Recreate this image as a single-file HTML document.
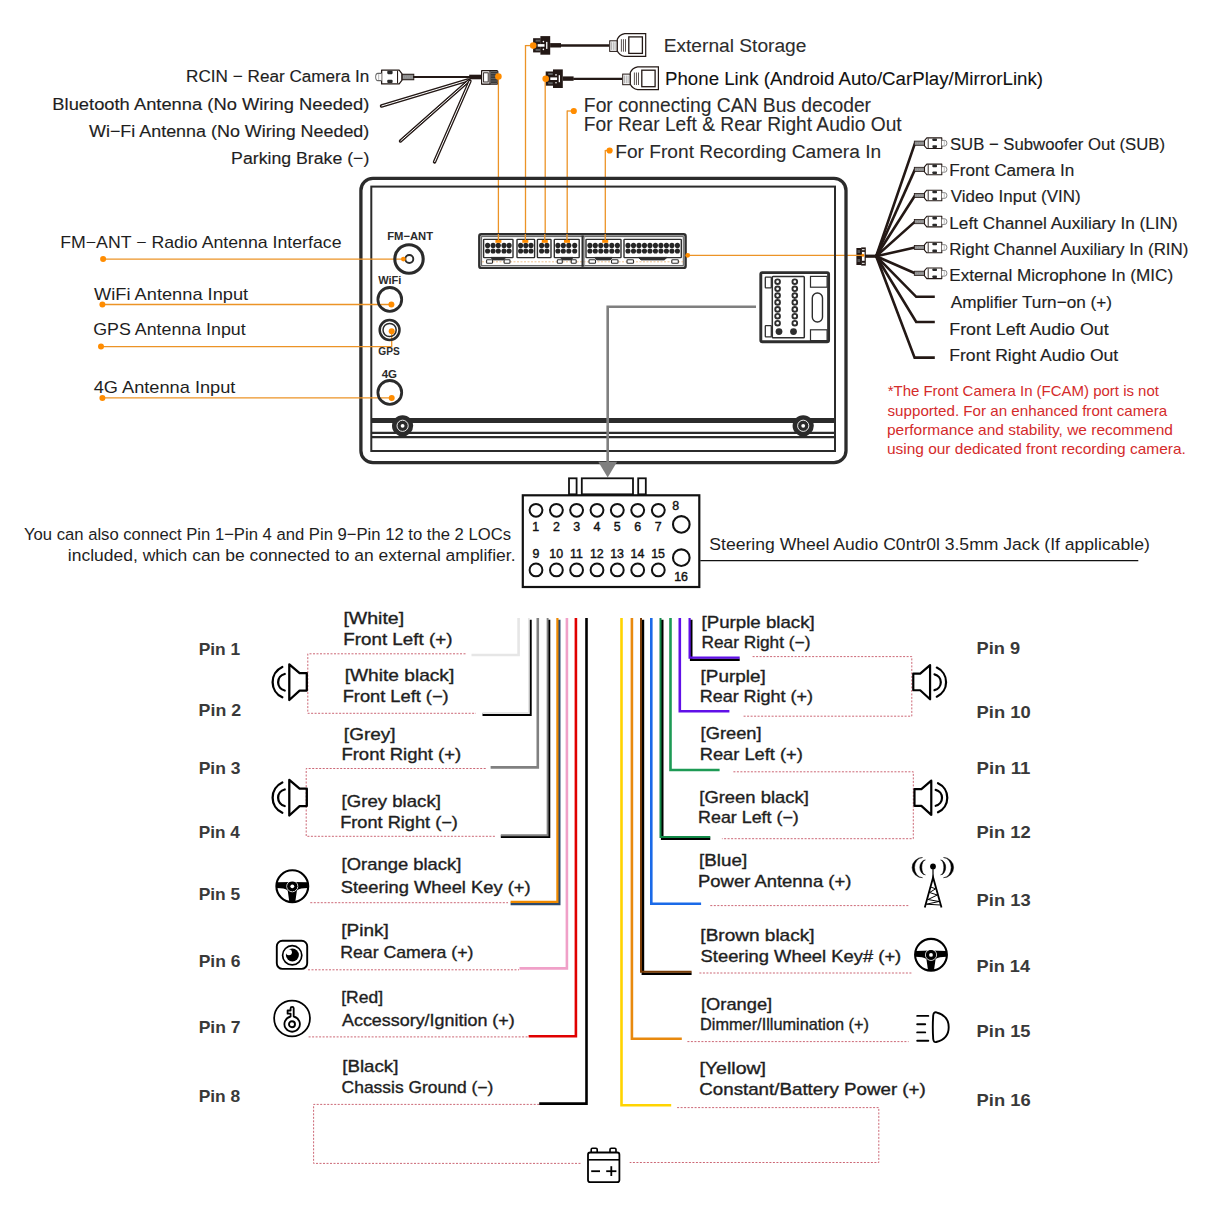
<!DOCTYPE html>
<html><head><meta charset="utf-8"><style>
html,body{margin:0;padding:0;background:#fff;}
svg{display:block;}
text{font-family:"Liberation Sans", sans-serif;}
</style></head><body>
<svg width="1214" height="1214" viewBox="0 0 1214 1214">
<rect x="0" y="0" width="1214" height="1214" fill="#fff"/>
<text x="186.13" y="82.30" font-size="16.9" font-weight="normal" fill="#1e1e1e" stroke="#1e1e1e" stroke-width="0.15" textLength="183.25" lengthAdjust="spacingAndGlyphs">RCIN − Rear Camera In</text>
<text x="52.33" y="109.60" font-size="16.9" font-weight="normal" fill="#1e1e1e" stroke="#1e1e1e" stroke-width="0.15" textLength="317.04" lengthAdjust="spacingAndGlyphs">Bluetooth Antenna (No Wiring Needed)</text>
<text x="89.00" y="136.80" font-size="16.9" font-weight="normal" fill="#1e1e1e" stroke="#1e1e1e" stroke-width="0.15" textLength="280.30" lengthAdjust="spacingAndGlyphs">Wi−Fi Antenna (No Wiring Needed)</text>
<text x="231.08" y="164.00" font-size="16.9" font-weight="normal" fill="#1e1e1e" stroke="#1e1e1e" stroke-width="0.15" textLength="138.26" lengthAdjust="spacingAndGlyphs">Parking Brake (−)</text>
<line x1="468" y1="80" x2="381.5" y2="106" stroke="#231815" stroke-width="3.4" stroke-linecap="round"/>
<line x1="468" y1="80" x2="381.5" y2="106" stroke="#ffffff" stroke-width="1.0" />
<line x1="469" y1="80.5" x2="400.5" y2="141" stroke="#231815" stroke-width="3.4" stroke-linecap="round"/>
<line x1="469" y1="80.5" x2="400.5" y2="141" stroke="#ffffff" stroke-width="1.0" />
<line x1="470" y1="81" x2="434.5" y2="162" stroke="#231815" stroke-width="3.4" stroke-linecap="round"/>
<line x1="470" y1="81" x2="434.5" y2="162" stroke="#ffffff" stroke-width="1.0" />
<g transform="translate(413.8,77.0) scale(-1.17,1.3)">
<rect x="0" y="-2.1" width="10.2" height="4.2" rx="0" fill="#8c8c8c" stroke="#231815" stroke-width="0.8" />
<line x1="1" y1="0" x2="9.5" y2="0" stroke="#b5b5b5" stroke-width="0.6" stroke-dasharray="1 0.8"/>
<path d="M10.2,-2.6 L12.5,-5.3 L27.5,-5.3 L27.5,5.3 L12.5,5.3 L10.2,2.6 Z" fill="#ffffff" stroke="#231815" stroke-width="1.1" stroke-linejoin="round"/>
<line x1="13.9" y1="-4.8" x2="13.9" y2="4.8" stroke="#231815" stroke-width="0.9" />
<rect x="18.1" y="-4.8" width="4.6" height="2.6" rx="0.8" fill="#2a2a2a" stroke="none" stroke-width="0" />
<rect x="18.1" y="2.1" width="4.6" height="2.6" rx="0.8" fill="#2a2a2a" stroke="none" stroke-width="0" />
<path d="M27.5,-2.8 L30.6,-2.8 Q32.6,-2.8 32.6,0 Q32.6,2.8 30.6,2.8 L27.5,2.8" fill="#ffffff" stroke="#666" stroke-width="0.8" />
<line x1="30" y1="-2.2" x2="30" y2="2.2" stroke="#999" stroke-width="0.6" />
</g>
<line x1="413" y1="77.0" x2="470" y2="77.0" stroke="#231815" stroke-width="1.9" />
<rect x="469.2" y="74.7" width="12.2" height="4.6" rx="0" fill="#231815" stroke="none" stroke-width="0" />
<rect x="481.6" y="70.6" width="16.2" height="13.6" rx="1" fill="#ffffff" stroke="#231815" stroke-width="1.2" />
<rect x="481.6" y="70.6" width="8.4" height="13.6" rx="0.5" fill="#ffffff" stroke="#231815" stroke-width="1.2" />
<rect x="483.6" y="72.8" width="4.6" height="9.2" rx="0" fill="#ffffff" stroke="#231815" stroke-width="0.9" />
<rect x="490.6" y="71.3" width="6.6" height="12.2" rx="0" fill="#3a3a3a" stroke="none" stroke-width="0" />
<line x1="491" y1="73.5" x2="497" y2="73.5" stroke="#777" stroke-width="0.6" />
<line x1="491" y1="76.0" x2="497" y2="76.0" stroke="#777" stroke-width="0.6" />
<line x1="491" y1="78.5" x2="497" y2="78.5" stroke="#777" stroke-width="0.6" />
<line x1="491" y1="81.0" x2="497" y2="81.0" stroke="#777" stroke-width="0.6" />
<line x1="498.4" y1="76.5" x2="498.4" y2="240" stroke="#ec9326" stroke-width="1.3" />
<circle cx="498.4" cy="76.5" r="3.3" fill="#ff8c00" stroke="none" stroke-width="0" />
<rect x="533.1" y="38.199999999999996" width="7.6" height="14.2" rx="0" fill="#231815" stroke="none" stroke-width="0" />
<rect x="540.4" y="36.099999999999994" width="9.8" height="18.6" rx="0" fill="#231815" stroke="none" stroke-width="0" />
<rect x="537.7" y="44.099999999999994" width="6.8" height="2.6" rx="0" fill="#ffffff" stroke="none" stroke-width="0" />
<rect x="546.1" y="41.9" width="1.3" height="7.0" rx="0" fill="#ffffff" stroke="none" stroke-width="0" />
<circle cx="543.4" cy="41.599999999999994" r="0.8" fill="#fff" stroke="none" stroke-width="0" />
<circle cx="543.4" cy="49.4" r="0.8" fill="#fff" stroke="none" stroke-width="0" />
<rect x="535.6" y="39.699999999999996" width="4.5" height="2.0" rx="0" fill="#5a5a5a" stroke="none" stroke-width="0" />
<rect x="535.6" y="48.9" width="4.5" height="2.0" rx="0" fill="#5a5a5a" stroke="none" stroke-width="0" />
<rect x="550.1" y="43.099999999999994" width="10.9" height="4.4" rx="0" fill="#231815" stroke="none" stroke-width="0" />
<line x1="560.6" y1="45.5" x2="609.3" y2="45.5" stroke="#231815" stroke-width="2.3" />
<rect x="609.6999999999999" y="40.8" width="7.6" height="10.6" rx="0" fill="#f4f4f4" stroke="#231815" stroke-width="1.0" />
<line x1="611.5" y1="42.3" x2="611.5" y2="49.9" stroke="#888" stroke-width="0.6" />
<line x1="613.3" y1="42.3" x2="613.3" y2="49.9" stroke="#888" stroke-width="0.6" />
<line x1="615.1" y1="42.3" x2="615.1" y2="49.9" stroke="#888" stroke-width="0.6" />
<path d="M617.3,40.699999999999996 L617.3,39.3 Q619.3,34.699999999999996 624.6999999999999,33.599999999999994 L645.7,33.599999999999994 L645.7,56.3 L624.6999999999999,56.3 Q619.3,55.3 617.3,50.9 Z" fill="#ffffff" stroke="#231815" stroke-width="1.2" />
<line x1="621.4" y1="39.199999999999996" x2="621.4" y2="51.699999999999996" stroke="#231815" stroke-width="0.75" />
<line x1="623.4499999999999" y1="39.199999999999996" x2="623.4499999999999" y2="51.699999999999996" stroke="#231815" stroke-width="0.75" />
<line x1="625.5" y1="39.199999999999996" x2="625.5" y2="51.699999999999996" stroke="#231815" stroke-width="0.75" />
<rect x="628.8" y="36.9" width="13.60000000000009" height="16.5" rx="0" fill="#ffffff" stroke="#231815" stroke-width="1.3" />
<line x1="525.5" y1="45.6" x2="533" y2="45.6" stroke="#ec9326" stroke-width="1.3" />
<line x1="525.5" y1="45.0" x2="525.5" y2="240" stroke="#ec9326" stroke-width="1.3" />
<circle cx="533.2" cy="45.6" r="3.3" fill="#ff8c00" stroke="none" stroke-width="0" />
<rect x="545.7" y="71.5" width="7.6" height="14.2" rx="0" fill="#231815" stroke="none" stroke-width="0" />
<rect x="553.0" y="69.39999999999999" width="9.8" height="18.6" rx="0" fill="#231815" stroke="none" stroke-width="0" />
<rect x="550.3000000000001" y="77.39999999999999" width="6.8" height="2.6" rx="0" fill="#ffffff" stroke="none" stroke-width="0" />
<rect x="558.7" y="75.19999999999999" width="1.3" height="7.0" rx="0" fill="#ffffff" stroke="none" stroke-width="0" />
<circle cx="556.0" cy="74.89999999999999" r="0.8" fill="#fff" stroke="none" stroke-width="0" />
<circle cx="556.0" cy="82.69999999999999" r="0.8" fill="#fff" stroke="none" stroke-width="0" />
<rect x="548.2" y="73.0" width="4.5" height="2.0" rx="0" fill="#5a5a5a" stroke="none" stroke-width="0" />
<rect x="548.2" y="82.19999999999999" width="4.5" height="2.0" rx="0" fill="#5a5a5a" stroke="none" stroke-width="0" />
<rect x="562.7" y="76.39999999999999" width="10.9" height="4.4" rx="0" fill="#231815" stroke="none" stroke-width="0" />
<line x1="573.2" y1="78.8" x2="622.3" y2="78.8" stroke="#231815" stroke-width="2.3" />
<rect x="622.6999999999999" y="74.1" width="7.6" height="10.6" rx="0" fill="#f4f4f4" stroke="#231815" stroke-width="1.0" />
<line x1="624.5" y1="75.6" x2="624.5" y2="83.19999999999999" stroke="#888" stroke-width="0.6" />
<line x1="626.3" y1="75.6" x2="626.3" y2="83.19999999999999" stroke="#888" stroke-width="0.6" />
<line x1="628.1" y1="75.6" x2="628.1" y2="83.19999999999999" stroke="#888" stroke-width="0.6" />
<path d="M630.3,74.0 L630.3,72.6 Q632.3,68.0 637.6999999999999,66.89999999999999 L658.4,66.89999999999999 L658.4,89.6 L637.6999999999999,89.6 Q632.3,88.6 630.3,84.19999999999999 Z" fill="#ffffff" stroke="#231815" stroke-width="1.2" />
<line x1="634.4" y1="72.5" x2="634.4" y2="85.0" stroke="#231815" stroke-width="0.75" />
<line x1="636.4499999999999" y1="72.5" x2="636.4499999999999" y2="85.0" stroke="#231815" stroke-width="0.75" />
<line x1="638.5" y1="72.5" x2="638.5" y2="85.0" stroke="#231815" stroke-width="0.75" />
<rect x="641.8" y="70.19999999999999" width="13.300000000000022" height="16.5" rx="0" fill="#ffffff" stroke="#231815" stroke-width="1.3" />
<line x1="545.2" y1="78.8" x2="545.2" y2="240" stroke="#ec9326" stroke-width="1.3" />
<circle cx="545.7" cy="78.8" r="3.3" fill="#ff8c00" stroke="none" stroke-width="0" />
<text x="663.67" y="51.50" font-size="19.2" font-weight="normal" fill="#2d2d2d" stroke="#2d2d2d" stroke-width="0.1" textLength="142.78" lengthAdjust="spacingAndGlyphs">External Storage</text>
<text x="665.01" y="85.30" font-size="19.2" font-weight="normal" fill="#111" stroke="#111" stroke-width="0.1" textLength="378.06" lengthAdjust="spacingAndGlyphs">Phone Link (Android Auto/CarPlay/MirrorLink)</text>
<text x="583.86" y="112.40" font-size="19.6" font-weight="normal" fill="#2a2a2a" stroke="#2a2a2a" stroke-width="0.1" textLength="287.17" lengthAdjust="spacingAndGlyphs">For connecting CAN Bus decoder</text>
<text x="583.87" y="130.80" font-size="19.6" font-weight="normal" fill="#2a2a2a" stroke="#2a2a2a" stroke-width="0.1" textLength="317.81" lengthAdjust="spacingAndGlyphs">For Rear Left &amp; Rear Right Audio Out</text>
<text x="615.27" y="158.30" font-size="19.2" font-weight="normal" fill="#2a2a2a" stroke="#2a2a2a" stroke-width="0.1" textLength="265.87" lengthAdjust="spacingAndGlyphs">For Front Recording Camera In</text>
<line x1="567.2" y1="111" x2="573.8" y2="111" stroke="#ec9326" stroke-width="1.3" />
<line x1="567.2" y1="110.4" x2="567.2" y2="240" stroke="#ec9326" stroke-width="1.3" />
<circle cx="573.8" cy="111" r="3.1" fill="#ff8c00" stroke="none" stroke-width="0" />
<line x1="605.3" y1="150.5" x2="609.6" y2="150.5" stroke="#ec9326" stroke-width="1.3" />
<line x1="605.3" y1="149.9" x2="605.3" y2="240" stroke="#ec9326" stroke-width="1.3" />
<circle cx="609.6" cy="150.5" r="3.1" fill="#ff8c00" stroke="none" stroke-width="0" />
<line x1="876.2" y1="256.2" x2="915" y2="143.2" stroke="#231815" stroke-width="2.6" stroke-linecap="round"/>
<line x1="876.2" y1="256.2" x2="915" y2="169.4" stroke="#231815" stroke-width="2.6" stroke-linecap="round"/>
<line x1="876.2" y1="256.2" x2="915" y2="195.5" stroke="#231815" stroke-width="2.6" stroke-linecap="round"/>
<line x1="876.2" y1="256.2" x2="915" y2="221.6" stroke="#231815" stroke-width="2.6" stroke-linecap="round"/>
<line x1="876.2" y1="256.2" x2="915" y2="247.5" stroke="#231815" stroke-width="2.6" stroke-linecap="round"/>
<line x1="876.2" y1="256.2" x2="915" y2="273.3" stroke="#231815" stroke-width="2.6" stroke-linecap="round"/>
<polyline points="876.2,256.2 916.2,296.8 934.8,296.8" fill="none" stroke="#231815" stroke-width="2.6" stroke-linejoin="miter"/>
<polyline points="876.2,256.2 916.2,322.0 934.8,322.0" fill="none" stroke="#231815" stroke-width="2.6" stroke-linejoin="miter"/>
<polyline points="876.2,256.2 914.6,357.6 934.8,357.6" fill="none" stroke="#231815" stroke-width="2.6" stroke-linejoin="miter"/>
<rect x="914.3" y="141.1" width="10.2" height="4.2" rx="0" fill="#8c8c8c" stroke="#231815" stroke-width="0.8" />
<line x1="915.3" y1="143.2" x2="923.8" y2="143.2" stroke="#b5b5b5" stroke-width="0.6" stroke-dasharray="1 0.8"/>
<path d="M924.5,140.6 L926.8,137.89999999999998 L941.8,137.89999999999998 L941.8,148.5 L926.8,148.5 L924.5,145.79999999999998 Z" fill="#ffffff" stroke="#231815" stroke-width="1.1" stroke-linejoin="round"/>
<line x1="928.1999999999999" y1="138.39999999999998" x2="928.1999999999999" y2="148.0" stroke="#231815" stroke-width="0.9" />
<rect x="932.4" y="138.39999999999998" width="4.6" height="2.6" rx="0.8" fill="#2a2a2a" stroke="none" stroke-width="0" />
<rect x="932.4" y="145.29999999999998" width="4.6" height="2.6" rx="0.8" fill="#2a2a2a" stroke="none" stroke-width="0" />
<path d="M941.8,140.39999999999998 L944.9,140.39999999999998 Q946.9,140.39999999999998 946.9,143.2 Q946.9,146.0 944.9,146.0 L941.8,146.0" fill="#ffffff" stroke="#666" stroke-width="0.8" />
<line x1="944.3" y1="141.0" x2="944.3" y2="145.39999999999998" stroke="#999" stroke-width="0.6" />
<rect x="914.3" y="167.3" width="10.2" height="4.2" rx="0" fill="#8c8c8c" stroke="#231815" stroke-width="0.8" />
<line x1="915.3" y1="169.4" x2="923.8" y2="169.4" stroke="#b5b5b5" stroke-width="0.6" stroke-dasharray="1 0.8"/>
<path d="M924.5,166.8 L926.8,164.1 L941.8,164.1 L941.8,174.70000000000002 L926.8,174.70000000000002 L924.5,172.0 Z" fill="#ffffff" stroke="#231815" stroke-width="1.1" stroke-linejoin="round"/>
<line x1="928.1999999999999" y1="164.6" x2="928.1999999999999" y2="174.20000000000002" stroke="#231815" stroke-width="0.9" />
<rect x="932.4" y="164.6" width="4.6" height="2.6" rx="0.8" fill="#2a2a2a" stroke="none" stroke-width="0" />
<rect x="932.4" y="171.5" width="4.6" height="2.6" rx="0.8" fill="#2a2a2a" stroke="none" stroke-width="0" />
<path d="M941.8,166.6 L944.9,166.6 Q946.9,166.6 946.9,169.4 Q946.9,172.20000000000002 944.9,172.20000000000002 L941.8,172.20000000000002" fill="#ffffff" stroke="#666" stroke-width="0.8" />
<line x1="944.3" y1="167.20000000000002" x2="944.3" y2="171.6" stroke="#999" stroke-width="0.6" />
<rect x="914.3" y="193.4" width="10.2" height="4.2" rx="0" fill="#8c8c8c" stroke="#231815" stroke-width="0.8" />
<line x1="915.3" y1="195.5" x2="923.8" y2="195.5" stroke="#b5b5b5" stroke-width="0.6" stroke-dasharray="1 0.8"/>
<path d="M924.5,192.9 L926.8,190.2 L941.8,190.2 L941.8,200.8 L926.8,200.8 L924.5,198.1 Z" fill="#ffffff" stroke="#231815" stroke-width="1.1" stroke-linejoin="round"/>
<line x1="928.1999999999999" y1="190.7" x2="928.1999999999999" y2="200.3" stroke="#231815" stroke-width="0.9" />
<rect x="932.4" y="190.7" width="4.6" height="2.6" rx="0.8" fill="#2a2a2a" stroke="none" stroke-width="0" />
<rect x="932.4" y="197.6" width="4.6" height="2.6" rx="0.8" fill="#2a2a2a" stroke="none" stroke-width="0" />
<path d="M941.8,192.7 L944.9,192.7 Q946.9,192.7 946.9,195.5 Q946.9,198.3 944.9,198.3 L941.8,198.3" fill="#ffffff" stroke="#666" stroke-width="0.8" />
<line x1="944.3" y1="193.3" x2="944.3" y2="197.7" stroke="#999" stroke-width="0.6" />
<rect x="914.3" y="219.5" width="10.2" height="4.2" rx="0" fill="#8c8c8c" stroke="#231815" stroke-width="0.8" />
<line x1="915.3" y1="221.6" x2="923.8" y2="221.6" stroke="#b5b5b5" stroke-width="0.6" stroke-dasharray="1 0.8"/>
<path d="M924.5,219.0 L926.8,216.29999999999998 L941.8,216.29999999999998 L941.8,226.9 L926.8,226.9 L924.5,224.2 Z" fill="#ffffff" stroke="#231815" stroke-width="1.1" stroke-linejoin="round"/>
<line x1="928.1999999999999" y1="216.79999999999998" x2="928.1999999999999" y2="226.4" stroke="#231815" stroke-width="0.9" />
<rect x="932.4" y="216.79999999999998" width="4.6" height="2.6" rx="0.8" fill="#2a2a2a" stroke="none" stroke-width="0" />
<rect x="932.4" y="223.7" width="4.6" height="2.6" rx="0.8" fill="#2a2a2a" stroke="none" stroke-width="0" />
<path d="M941.8,218.79999999999998 L944.9,218.79999999999998 Q946.9,218.79999999999998 946.9,221.6 Q946.9,224.4 944.9,224.4 L941.8,224.4" fill="#ffffff" stroke="#666" stroke-width="0.8" />
<line x1="944.3" y1="219.4" x2="944.3" y2="223.79999999999998" stroke="#999" stroke-width="0.6" />
<rect x="914.3" y="245.4" width="10.2" height="4.2" rx="0" fill="#8c8c8c" stroke="#231815" stroke-width="0.8" />
<line x1="915.3" y1="247.5" x2="923.8" y2="247.5" stroke="#b5b5b5" stroke-width="0.6" stroke-dasharray="1 0.8"/>
<path d="M924.5,244.9 L926.8,242.2 L941.8,242.2 L941.8,252.8 L926.8,252.8 L924.5,250.1 Z" fill="#ffffff" stroke="#231815" stroke-width="1.1" stroke-linejoin="round"/>
<line x1="928.1999999999999" y1="242.7" x2="928.1999999999999" y2="252.3" stroke="#231815" stroke-width="0.9" />
<rect x="932.4" y="242.7" width="4.6" height="2.6" rx="0.8" fill="#2a2a2a" stroke="none" stroke-width="0" />
<rect x="932.4" y="249.6" width="4.6" height="2.6" rx="0.8" fill="#2a2a2a" stroke="none" stroke-width="0" />
<path d="M941.8,244.7 L944.9,244.7 Q946.9,244.7 946.9,247.5 Q946.9,250.3 944.9,250.3 L941.8,250.3" fill="#ffffff" stroke="#666" stroke-width="0.8" />
<line x1="944.3" y1="245.3" x2="944.3" y2="249.7" stroke="#999" stroke-width="0.6" />
<rect x="914.3" y="271.2" width="10.2" height="4.2" rx="0" fill="#8c8c8c" stroke="#231815" stroke-width="0.8" />
<line x1="915.3" y1="273.3" x2="923.8" y2="273.3" stroke="#b5b5b5" stroke-width="0.6" stroke-dasharray="1 0.8"/>
<path d="M924.5,270.7 L926.8,268.0 L941.8,268.0 L941.8,278.6 L926.8,278.6 L924.5,275.90000000000003 Z" fill="#ffffff" stroke="#231815" stroke-width="1.1" stroke-linejoin="round"/>
<line x1="928.1999999999999" y1="268.5" x2="928.1999999999999" y2="278.1" stroke="#231815" stroke-width="0.9" />
<rect x="932.4" y="268.5" width="4.6" height="2.6" rx="0.8" fill="#2a2a2a" stroke="none" stroke-width="0" />
<rect x="932.4" y="275.40000000000003" width="4.6" height="2.6" rx="0.8" fill="#2a2a2a" stroke="none" stroke-width="0" />
<path d="M941.8,270.5 L944.9,270.5 Q946.9,270.5 946.9,273.3 Q946.9,276.1 944.9,276.1 L941.8,276.1" fill="#ffffff" stroke="#666" stroke-width="0.8" />
<line x1="944.3" y1="271.1" x2="944.3" y2="275.5" stroke="#999" stroke-width="0.6" />
<text x="949.95" y="149.90" font-size="16.8" font-weight="normal" fill="#1e1e1e" stroke="#1e1e1e" stroke-width="0.15" textLength="215.10" lengthAdjust="spacingAndGlyphs">SUB − Subwoofer Out (SUB)</text>
<text x="949.33" y="176.10" font-size="16.8" font-weight="normal" fill="#1e1e1e" stroke="#1e1e1e" stroke-width="0.15" textLength="124.91" lengthAdjust="spacingAndGlyphs">Front Camera In</text>
<text x="950.70" y="202.20" font-size="16.8" font-weight="normal" fill="#1e1e1e" stroke="#1e1e1e" stroke-width="0.15" textLength="129.98" lengthAdjust="spacingAndGlyphs">Video Input (VIN)</text>
<text x="949.32" y="228.60" font-size="16.8" font-weight="normal" fill="#1e1e1e" stroke="#1e1e1e" stroke-width="0.15" textLength="228.40" lengthAdjust="spacingAndGlyphs">Left Channel Auxiliary In (LIN)</text>
<text x="949.34" y="254.90" font-size="16.8" font-weight="normal" fill="#1e1e1e" stroke="#1e1e1e" stroke-width="0.15" textLength="239.12" lengthAdjust="spacingAndGlyphs">Right Channel Auxiliary In (RIN)</text>
<text x="949.33" y="281.20" font-size="16.8" font-weight="normal" fill="#1e1e1e" stroke="#1e1e1e" stroke-width="0.15" textLength="223.81" lengthAdjust="spacingAndGlyphs">External Microphone In (MIC)</text>
<text x="950.70" y="307.90" font-size="16.8" font-weight="normal" fill="#1e1e1e" stroke="#1e1e1e" stroke-width="0.15" textLength="161.40" lengthAdjust="spacingAndGlyphs">Amplifier Turn−on (+)</text>
<text x="949.28" y="334.70" font-size="16.8" font-weight="normal" fill="#1e1e1e" stroke="#1e1e1e" stroke-width="0.15" textLength="159.41" lengthAdjust="spacingAndGlyphs">Front Left Audio Out</text>
<text x="949.29" y="360.90" font-size="16.8" font-weight="normal" fill="#1e1e1e" stroke="#1e1e1e" stroke-width="0.15" textLength="168.93" lengthAdjust="spacingAndGlyphs">Front Right Audio Out</text>
<line x1="865" y1="256.2" x2="876.2" y2="256.2" stroke="#231815" stroke-width="3.2" />
<rect x="856.4" y="248.0" width="5.2" height="17.0" rx="0" fill="#231815" stroke="none" stroke-width="0" />
<rect x="861.2" y="247.4" width="4.6" height="18.2" rx="0" fill="#231815" stroke="none" stroke-width="0" />
<rect x="862.0" y="251.9" width="2.6" height="8.9" rx="0" fill="#ffffff" stroke="none" stroke-width="0" />
<rect x="862.0" y="249.2" width="2.6" height="1.0" rx="0" fill="#ffffff" stroke="none" stroke-width="0" />
<rect x="862.0" y="262.8" width="2.6" height="1.0" rx="0" fill="#ffffff" stroke="none" stroke-width="0" />
<rect x="857.5" y="250" width="2.6" height="3" rx="0" fill="#555" stroke="none" stroke-width="0" />
<rect x="857.5" y="259" width="2.6" height="3" rx="0" fill="#555" stroke="none" stroke-width="0" />
<line x1="687.7" y1="255.3" x2="862" y2="255.3" stroke="#ec9326" stroke-width="1.2" />
<circle cx="862.9" cy="255.3" r="1.5" fill="#ff8c00" stroke="none" stroke-width="0" />
<rect x="360.9" y="178.4" width="485.1" height="284.3" rx="12" fill="none" stroke="#2b2b2b" stroke-width="3.3" />
<rect x="371.3" y="186.6" width="463.7" height="264.4" rx="0" fill="none" stroke="#2b2b2b" stroke-width="2.0" />
<rect x="371.3" y="418.0" width="463.7" height="5.0" rx="0" fill="#2b2b2b" stroke="none" stroke-width="0" />
<line x1="371.3" y1="432.8" x2="835" y2="432.8" stroke="#2b2b2b" stroke-width="2.3" />
<line x1="371.3" y1="437.1" x2="835" y2="437.1" stroke="#2b2b2b" stroke-width="2.3" />
<circle cx="402.6" cy="425.8" r="10.6" fill="#2b2b2b" stroke="none" stroke-width="0" />
<circle cx="402.6" cy="425.8" r="5.6" fill="none" stroke="#ffffff" stroke-width="0.9" />
<circle cx="402.6" cy="425.8" r="1.9" fill="#ffffff" stroke="none" stroke-width="0" />
<circle cx="803.2" cy="425.8" r="10.6" fill="#2b2b2b" stroke="none" stroke-width="0" />
<circle cx="803.2" cy="425.8" r="5.6" fill="none" stroke="#ffffff" stroke-width="0.9" />
<circle cx="803.2" cy="425.8" r="1.9" fill="#ffffff" stroke="none" stroke-width="0" />
<text x="60.18" y="247.70" font-size="16.6" font-weight="normal" fill="#1e1e1e" textLength="281.32" lengthAdjust="spacingAndGlyphs">FM−ANT − Radio Antenna Interface</text>
<text x="94.10" y="299.60" font-size="16.6" font-weight="normal" fill="#1e1e1e" textLength="154.08" lengthAdjust="spacingAndGlyphs">WiFi Antenna Input</text>
<text x="93.21" y="334.90" font-size="16.6" font-weight="normal" fill="#1e1e1e" textLength="152.53" lengthAdjust="spacingAndGlyphs">GPS Antenna Input</text>
<text x="93.74" y="393.00" font-size="16.6" font-weight="normal" fill="#1e1e1e" textLength="141.64" lengthAdjust="spacingAndGlyphs">4G Antenna Input</text>
<line x1="103" y1="259.1" x2="403" y2="259.1" stroke="#ec9326" stroke-width="1.3" />
<line x1="102.4" y1="304.5" x2="391.4" y2="304.5" stroke="#ec9326" stroke-width="1.3" />
<polyline points="101,346.6 391.7,346.6 391.7,331.2" fill="none" stroke="#ec9326" stroke-width="1.3" />
<line x1="102.4" y1="397.9" x2="391.7" y2="397.9" stroke="#ec9326" stroke-width="1.3" />
<circle cx="103.1" cy="259.1" r="3.0" fill="#ff8c00" stroke="none" stroke-width="0" />
<circle cx="102.4" cy="304.4" r="3.0" fill="#ff8c00" stroke="none" stroke-width="0" />
<circle cx="101" cy="346.6" r="3.0" fill="#ff8c00" stroke="none" stroke-width="0" />
<circle cx="102.4" cy="397.9" r="3.0" fill="#ff8c00" stroke="none" stroke-width="0" />
<text x="387.27" y="239.80" font-size="11.2" font-weight="bold" fill="#2b2b2b" textLength="45.82" lengthAdjust="spacingAndGlyphs">FM−ANT</text>
<circle cx="409" cy="259" r="14.2" fill="none" stroke="#2b2b2b" stroke-width="3.1" />
<circle cx="409.3" cy="259" r="4.0" fill="#fff" stroke="#2b2b2b" stroke-width="1.9" />
<circle cx="403.4" cy="259.1" r="2.4" fill="#ff8c00" stroke="none" stroke-width="0" />
<text x="378.20" y="284.30" font-size="11.2" font-weight="bold" fill="#2b2b2b" textLength="23.24" lengthAdjust="spacingAndGlyphs">WiFi</text>
<circle cx="389.8" cy="299.4" r="11.9" fill="none" stroke="#2b2b2b" stroke-width="2.8" />
<circle cx="391.4" cy="304.5" r="3.0" fill="#ff8c00" stroke="none" stroke-width="0" />
<circle cx="389.6" cy="330.0" r="9.9" fill="none" stroke="#2b2b2b" stroke-width="2.5" />
<circle cx="389.6" cy="330.0" r="6.6" fill="none" stroke="#2b2b2b" stroke-width="1.5" />
<circle cx="391.7" cy="331.2" r="3.0" fill="#ff8c00" stroke="none" stroke-width="0" />
<text x="378.29" y="354.70" font-size="11.2" font-weight="bold" fill="#2b2b2b" textLength="21.48" lengthAdjust="spacingAndGlyphs">GPS</text>
<text x="381.73" y="377.50" font-size="11.2" font-weight="bold" fill="#2b2b2b" textLength="15.35" lengthAdjust="spacingAndGlyphs">4G</text>
<circle cx="389.8" cy="392.4" r="11.9" fill="none" stroke="#2b2b2b" stroke-width="2.8" />
<circle cx="391.7" cy="397.9" r="3.0" fill="#ff8c00" stroke="none" stroke-width="0" />
<rect x="479.3" y="234.3" width="206.3" height="33.6" rx="2" fill="#ffffff" stroke="#2e2e2e" stroke-width="2.4" />
<rect x="481.6" y="236.6" width="201.7" height="29.0" rx="0" fill="none" stroke="#5a5a5a" stroke-width="1.0" />
<line x1="482" y1="261.8" x2="683" y2="261.8" stroke="#e8b070" stroke-width="0.8" stroke-dasharray="2 1.5"/>
<line x1="582.6" y1="235.5" x2="582.6" y2="266.8" stroke="#2e2e2e" stroke-width="2.2" />
<line x1="584.6" y1="236.0" x2="584.6" y2="266.5" stroke="#8a8a8a" stroke-width="0.8" />
<rect x="483.6" y="239.4" width="29.399999999999977" height="18.2" rx="0.6" fill="#ffffff" stroke="#2e2e2e" stroke-width="1.4" />
<path d="M490.95000000000005,257.4 L492.832,259.9 L503.76800000000003,259.9 L505.65,257.4 Z" fill="#2e2e2e" stroke="#2e2e2e" stroke-width="1.0" />
<rect x="486.6" y="259.8" width="5.8799999999999955" height="3.4" rx="0.8" fill="#ffffff" stroke="#2e2e2e" stroke-width="1.1" />
<rect x="504.12" y="259.8" width="5.8799999999999955" height="3.4" rx="0.8" fill="#ffffff" stroke="#2e2e2e" stroke-width="1.1" />
<circle cx="487.6" cy="245.4" r="2.55" fill="#262626" stroke="none" stroke-width="0" />
<circle cx="487.6" cy="251.0" r="2.55" fill="#262626" stroke="none" stroke-width="0" />
<circle cx="493.1" cy="245.4" r="2.55" fill="#262626" stroke="none" stroke-width="0" />
<circle cx="493.1" cy="251.0" r="2.55" fill="#262626" stroke="none" stroke-width="0" />
<circle cx="498.3" cy="245.4" r="2.55" fill="#262626" stroke="none" stroke-width="0" />
<circle cx="498.3" cy="251.0" r="2.55" fill="#262626" stroke="none" stroke-width="0" />
<circle cx="504.0" cy="245.4" r="2.55" fill="#262626" stroke="none" stroke-width="0" />
<circle cx="504.0" cy="251.0" r="2.55" fill="#262626" stroke="none" stroke-width="0" />
<circle cx="509.1" cy="245.4" r="2.55" fill="#262626" stroke="none" stroke-width="0" />
<circle cx="509.1" cy="251.0" r="2.55" fill="#262626" stroke="none" stroke-width="0" />
<rect x="517.0" y="239.4" width="17.600000000000023" height="18.2" rx="0.6" fill="#ffffff" stroke="#2e2e2e" stroke-width="1.4" />
<circle cx="520.6" cy="245.4" r="2.55" fill="#262626" stroke="none" stroke-width="0" />
<circle cx="520.6" cy="251.0" r="2.55" fill="#262626" stroke="none" stroke-width="0" />
<circle cx="525.8" cy="245.4" r="2.55" fill="#262626" stroke="none" stroke-width="0" />
<circle cx="525.8" cy="251.0" r="2.55" fill="#262626" stroke="none" stroke-width="0" />
<circle cx="531.0" cy="245.4" r="2.55" fill="#262626" stroke="none" stroke-width="0" />
<circle cx="531.0" cy="251.0" r="2.55" fill="#262626" stroke="none" stroke-width="0" />
<rect x="537.4" y="239.4" width="13.600000000000023" height="18.2" rx="0.6" fill="#ffffff" stroke="#2e2e2e" stroke-width="1.4" />
<circle cx="541.6" cy="245.4" r="2.55" fill="#262626" stroke="none" stroke-width="0" />
<circle cx="541.6" cy="251.0" r="2.55" fill="#262626" stroke="none" stroke-width="0" />
<circle cx="546.9" cy="245.4" r="2.55" fill="#262626" stroke="none" stroke-width="0" />
<circle cx="546.9" cy="251.0" r="2.55" fill="#262626" stroke="none" stroke-width="0" />
<rect x="554.3" y="239.4" width="24.90000000000009" height="18.2" rx="0.6" fill="#ffffff" stroke="#2e2e2e" stroke-width="1.4" />
<path d="M560.525,257.4 L562.2719999999999,259.9 L571.2280000000001,259.9 L572.975,257.4 Z" fill="#2e2e2e" stroke="#2e2e2e" stroke-width="1.0" />
<rect x="557.3" y="259.8" width="4.980000000000018" height="3.4" rx="0.8" fill="#ffffff" stroke="#2e2e2e" stroke-width="1.1" />
<rect x="571.22" y="259.8" width="4.980000000000018" height="3.4" rx="0.8" fill="#ffffff" stroke="#2e2e2e" stroke-width="1.1" />
<circle cx="557.9" cy="245.4" r="2.55" fill="#262626" stroke="none" stroke-width="0" />
<circle cx="557.9" cy="251.0" r="2.55" fill="#262626" stroke="none" stroke-width="0" />
<circle cx="563.3" cy="245.4" r="2.55" fill="#262626" stroke="none" stroke-width="0" />
<circle cx="563.3" cy="251.0" r="2.55" fill="#262626" stroke="none" stroke-width="0" />
<circle cx="568.8" cy="245.4" r="2.55" fill="#262626" stroke="none" stroke-width="0" />
<circle cx="568.8" cy="251.0" r="2.55" fill="#262626" stroke="none" stroke-width="0" />
<circle cx="574.7" cy="245.4" r="2.55" fill="#262626" stroke="none" stroke-width="0" />
<circle cx="574.7" cy="251.0" r="2.55" fill="#262626" stroke="none" stroke-width="0" />
<rect x="586.0" y="239.4" width="35.0" height="18.2" rx="0.6" fill="#ffffff" stroke="#2e2e2e" stroke-width="1.4" />
<path d="M594.75,257.4 L596.8,259.9 L610.2,259.9 L612.25,257.4 Z" fill="#2e2e2e" stroke="#2e2e2e" stroke-width="1.0" />
<rect x="589.0" y="259.8" width="6.5" height="3.4" rx="0.8" fill="#ffffff" stroke="#2e2e2e" stroke-width="1.1" />
<rect x="611.5" y="259.8" width="6.5" height="3.4" rx="0.8" fill="#ffffff" stroke="#2e2e2e" stroke-width="1.1" />
<circle cx="589.9" cy="245.4" r="2.55" fill="#262626" stroke="none" stroke-width="0" />
<circle cx="589.9" cy="251.0" r="2.55" fill="#262626" stroke="none" stroke-width="0" />
<circle cx="595.3" cy="245.4" r="2.55" fill="#262626" stroke="none" stroke-width="0" />
<circle cx="595.3" cy="251.0" r="2.55" fill="#262626" stroke="none" stroke-width="0" />
<circle cx="600.8" cy="245.4" r="2.55" fill="#262626" stroke="none" stroke-width="0" />
<circle cx="600.8" cy="251.0" r="2.55" fill="#262626" stroke="none" stroke-width="0" />
<circle cx="606.2" cy="245.4" r="2.55" fill="#262626" stroke="none" stroke-width="0" />
<circle cx="606.2" cy="251.0" r="2.55" fill="#262626" stroke="none" stroke-width="0" />
<circle cx="611.8" cy="245.4" r="2.55" fill="#262626" stroke="none" stroke-width="0" />
<circle cx="611.8" cy="251.0" r="2.55" fill="#262626" stroke="none" stroke-width="0" />
<circle cx="617.4" cy="245.4" r="2.55" fill="#262626" stroke="none" stroke-width="0" />
<circle cx="617.4" cy="251.0" r="2.55" fill="#262626" stroke="none" stroke-width="0" />
<rect x="624.0" y="239.4" width="57.299999999999955" height="18.2" rx="0.6" fill="#ffffff" stroke="#2e2e2e" stroke-width="1.4" />
<path d="M638.325,257.4 L641.044,259.9 L664.256,259.9 L666.9749999999999,257.4 Z" fill="#2e2e2e" stroke="#2e2e2e" stroke-width="1.0" />
<rect x="627.0" y="259.8" width="6.5" height="3.4" rx="0.8" fill="#ffffff" stroke="#2e2e2e" stroke-width="1.1" />
<rect x="671.8" y="259.8" width="6.5" height="3.4" rx="0.8" fill="#ffffff" stroke="#2e2e2e" stroke-width="1.1" />
<circle cx="628.0" cy="245.4" r="2.55" fill="#262626" stroke="none" stroke-width="0" />
<circle cx="628.0" cy="251.0" r="2.55" fill="#262626" stroke="none" stroke-width="0" />
<circle cx="633.49" cy="245.4" r="2.55" fill="#262626" stroke="none" stroke-width="0" />
<circle cx="633.49" cy="251.0" r="2.55" fill="#262626" stroke="none" stroke-width="0" />
<circle cx="638.98" cy="245.4" r="2.55" fill="#262626" stroke="none" stroke-width="0" />
<circle cx="638.98" cy="251.0" r="2.55" fill="#262626" stroke="none" stroke-width="0" />
<circle cx="644.47" cy="245.4" r="2.55" fill="#262626" stroke="none" stroke-width="0" />
<circle cx="644.47" cy="251.0" r="2.55" fill="#262626" stroke="none" stroke-width="0" />
<circle cx="649.96" cy="245.4" r="2.55" fill="#262626" stroke="none" stroke-width="0" />
<circle cx="649.96" cy="251.0" r="2.55" fill="#262626" stroke="none" stroke-width="0" />
<circle cx="655.45" cy="245.4" r="2.55" fill="#262626" stroke="none" stroke-width="0" />
<circle cx="655.45" cy="251.0" r="2.55" fill="#262626" stroke="none" stroke-width="0" />
<circle cx="660.94" cy="245.4" r="2.55" fill="#262626" stroke="none" stroke-width="0" />
<circle cx="660.94" cy="251.0" r="2.55" fill="#262626" stroke="none" stroke-width="0" />
<circle cx="666.43" cy="245.4" r="2.55" fill="#262626" stroke="none" stroke-width="0" />
<circle cx="666.43" cy="251.0" r="2.55" fill="#262626" stroke="none" stroke-width="0" />
<circle cx="671.92" cy="245.4" r="2.55" fill="#262626" stroke="none" stroke-width="0" />
<circle cx="671.92" cy="251.0" r="2.55" fill="#262626" stroke="none" stroke-width="0" />
<circle cx="677.41" cy="245.4" r="2.55" fill="#262626" stroke="none" stroke-width="0" />
<circle cx="677.41" cy="251.0" r="2.55" fill="#262626" stroke="none" stroke-width="0" />
<line x1="498.4" y1="234" x2="498.4" y2="242" stroke="#ec9326" stroke-width="1.3" />
<rect x="495.4" y="240.0" width="6" height="2.8" rx="0" fill="#ff8c00" stroke="none" stroke-width="0" />
<line x1="525.3" y1="234" x2="525.3" y2="242" stroke="#ec9326" stroke-width="1.3" />
<rect x="522.3" y="240.0" width="6" height="2.8" rx="0" fill="#ff8c00" stroke="none" stroke-width="0" />
<line x1="544.8" y1="234" x2="544.8" y2="242" stroke="#ec9326" stroke-width="1.3" />
<rect x="541.8" y="240.0" width="6" height="2.8" rx="0" fill="#ff8c00" stroke="none" stroke-width="0" />
<line x1="567.0" y1="234" x2="567.0" y2="242" stroke="#ec9326" stroke-width="1.3" />
<rect x="564.0" y="240.0" width="6" height="2.8" rx="0" fill="#ff8c00" stroke="none" stroke-width="0" />
<line x1="605.2" y1="234" x2="605.2" y2="242" stroke="#ec9326" stroke-width="1.3" />
<rect x="602.2" y="240.0" width="6" height="2.8" rx="0" fill="#ff8c00" stroke="none" stroke-width="0" />
<circle cx="687.7" cy="255.3" r="2.4" fill="#ff8c00" stroke="none" stroke-width="0" />
<rect x="760.8" y="272.6" width="67.8" height="69.2" rx="1.5" fill="#ffffff" stroke="#2e2e2e" stroke-width="2.9" />
<rect x="772.3" y="276.6" width="32" height="61.2" rx="0.8" fill="#ffffff" stroke="#2e2e2e" stroke-width="1.5" />
<rect x="765.3" y="277.2" width="6" height="10.6" rx="0.6" fill="#ffffff" stroke="#2e2e2e" stroke-width="1.3" />
<rect x="765.3" y="325.6" width="6" height="11.2" rx="0.6" fill="#ffffff" stroke="#2e2e2e" stroke-width="1.3" />
<rect x="810.5" y="276.4" width="16.6" height="10.8" rx="0" fill="#ffffff" stroke="#2e2e2e" stroke-width="1.2" />
<rect x="810.5" y="329.8" width="16.6" height="10.8" rx="0" fill="#ffffff" stroke="#2e2e2e" stroke-width="1.2" />
<rect x="812.3" y="293.0" width="10.2" height="29.0" rx="5" fill="#ffffff" stroke="#2e2e2e" stroke-width="1.4" />
<circle cx="777.6" cy="281.7" r="2.35" fill="#ffffff" stroke="#2e2e2e" stroke-width="1.9" />
<circle cx="777.6" cy="288.8" r="2.35" fill="#ffffff" stroke="#2e2e2e" stroke-width="1.9" />
<circle cx="777.6" cy="295.6" r="2.35" fill="#ffffff" stroke="#2e2e2e" stroke-width="1.9" />
<circle cx="777.6" cy="302.4" r="2.35" fill="#ffffff" stroke="#2e2e2e" stroke-width="1.9" />
<circle cx="777.6" cy="309.4" r="2.35" fill="#ffffff" stroke="#2e2e2e" stroke-width="1.9" />
<circle cx="777.6" cy="316.2" r="2.35" fill="#ffffff" stroke="#2e2e2e" stroke-width="1.9" />
<circle cx="777.6" cy="323.2" r="2.35" fill="#ffffff" stroke="#2e2e2e" stroke-width="1.9" />
<circle cx="794.8" cy="281.7" r="2.35" fill="#ffffff" stroke="#2e2e2e" stroke-width="1.9" />
<circle cx="794.8" cy="288.8" r="2.35" fill="#ffffff" stroke="#2e2e2e" stroke-width="1.9" />
<circle cx="794.8" cy="295.6" r="2.35" fill="#ffffff" stroke="#2e2e2e" stroke-width="1.9" />
<circle cx="794.8" cy="302.4" r="2.35" fill="#ffffff" stroke="#2e2e2e" stroke-width="1.9" />
<circle cx="794.8" cy="309.4" r="2.35" fill="#ffffff" stroke="#2e2e2e" stroke-width="1.9" />
<circle cx="794.8" cy="316.2" r="2.35" fill="#ffffff" stroke="#2e2e2e" stroke-width="1.9" />
<circle cx="794.8" cy="323.2" r="2.35" fill="#ffffff" stroke="#2e2e2e" stroke-width="1.9" />
<circle cx="779.0" cy="331.6" r="3.4" fill="#2e2e2e" stroke="none" stroke-width="0" />
<circle cx="793.5" cy="331.6" r="3.4" fill="#2e2e2e" stroke="none" stroke-width="0" />
<polyline points="756,306.7 607.7,306.7 607.7,463" fill="none" stroke="#7f7f7f" stroke-width="2.6" stroke-linejoin="miter"/>
<path d="M598.3,461.8 L617.1,461.8 L607.7,477.6 Z" fill="#7f7f7f" stroke="none" stroke-width="0" />
<text x="887.68" y="396.30" font-size="14.6" font-weight="normal" fill="#d42b2b" textLength="271.25" lengthAdjust="spacingAndGlyphs">*The Front Camera In (FCAM) port is not</text>
<text x="887.52" y="415.60" font-size="14.6" font-weight="normal" fill="#d42b2b" textLength="279.72" lengthAdjust="spacingAndGlyphs">supported. For an enhanced front camera</text>
<text x="886.97" y="435.30" font-size="14.6" font-weight="normal" fill="#d42b2b" textLength="285.96" lengthAdjust="spacingAndGlyphs">performance and stability, we recommend</text>
<text x="886.97" y="454.30" font-size="14.6" font-weight="normal" fill="#d42b2b" textLength="298.81" lengthAdjust="spacingAndGlyphs">using our dedicated front recording camera.</text>
<rect x="569.0" y="478.3" width="7.6" height="16.0" rx="0" fill="#ffffff" stroke="#111" stroke-width="1.8" />
<rect x="581.8" y="478.3" width="51.2" height="16.0" rx="0" fill="#ffffff" stroke="#111" stroke-width="1.8" />
<rect x="638.2" y="478.3" width="7.6" height="16.0" rx="0" fill="#ffffff" stroke="#111" stroke-width="1.8" />
<rect x="522.8" y="495.3" width="176.5" height="91.7" rx="0" fill="#ffffff" stroke="#111" stroke-width="2.2" />
<circle cx="536.0" cy="510.3" r="6.4" fill="#fff" stroke="#111" stroke-width="2.0" />
<circle cx="536.0" cy="569.9" r="6.4" fill="#fff" stroke="#111" stroke-width="2.0" />
<text x="532.37" y="531.00" font-size="12.4" font-weight="normal" fill="#111" stroke="#111" stroke-width="0.4">1</text>
<text x="532.56" y="558.20" font-size="12.4" font-weight="normal" fill="#111" stroke="#111" stroke-width="0.4">9</text>
<circle cx="556.4" cy="510.3" r="6.4" fill="#fff" stroke="#111" stroke-width="2.0" />
<circle cx="556.4" cy="569.9" r="6.4" fill="#fff" stroke="#111" stroke-width="2.0" />
<text x="552.93" y="531.00" font-size="12.4" font-weight="normal" fill="#111" stroke="#111" stroke-width="0.4">2</text>
<text x="549.27" y="558.20" font-size="12.4" font-weight="normal" fill="#111" stroke="#111" stroke-width="0.4">10</text>
<circle cx="576.6" cy="510.3" r="6.4" fill="#fff" stroke="#111" stroke-width="2.0" />
<circle cx="576.6" cy="569.9" r="6.4" fill="#fff" stroke="#111" stroke-width="2.0" />
<text x="573.19" y="531.00" font-size="12.4" font-weight="normal" fill="#111" stroke="#111" stroke-width="0.4">3</text>
<text x="570.00" y="558.20" font-size="12.4" font-weight="normal" fill="#111" stroke="#111" stroke-width="0.4">11</text>
<circle cx="597.0" cy="510.3" r="6.4" fill="#fff" stroke="#111" stroke-width="2.0" />
<circle cx="597.0" cy="569.9" r="6.4" fill="#fff" stroke="#111" stroke-width="2.0" />
<text x="593.59" y="531.00" font-size="12.4" font-weight="normal" fill="#111" stroke="#111" stroke-width="0.4">4</text>
<text x="589.93" y="558.20" font-size="12.4" font-weight="normal" fill="#111" stroke="#111" stroke-width="0.4">12</text>
<circle cx="617.3" cy="510.3" r="6.4" fill="#fff" stroke="#111" stroke-width="2.0" />
<circle cx="617.3" cy="569.9" r="6.4" fill="#fff" stroke="#111" stroke-width="2.0" />
<text x="613.86" y="531.00" font-size="12.4" font-weight="normal" fill="#111" stroke="#111" stroke-width="0.4">5</text>
<text x="610.20" y="558.20" font-size="12.4" font-weight="normal" fill="#111" stroke="#111" stroke-width="0.4">13</text>
<circle cx="637.7" cy="510.3" r="6.4" fill="#fff" stroke="#111" stroke-width="2.0" />
<circle cx="637.7" cy="569.9" r="6.4" fill="#fff" stroke="#111" stroke-width="2.0" />
<text x="634.20" y="531.00" font-size="12.4" font-weight="normal" fill="#111" stroke="#111" stroke-width="0.4">6</text>
<text x="630.51" y="558.20" font-size="12.4" font-weight="normal" fill="#111" stroke="#111" stroke-width="0.4">14</text>
<circle cx="658.3" cy="510.3" r="6.4" fill="#fff" stroke="#111" stroke-width="2.0" />
<circle cx="658.3" cy="569.9" r="6.4" fill="#fff" stroke="#111" stroke-width="2.0" />
<text x="654.83" y="531.00" font-size="12.4" font-weight="normal" fill="#111" stroke="#111" stroke-width="0.4">7</text>
<text x="651.20" y="558.20" font-size="12.4" font-weight="normal" fill="#111" stroke="#111" stroke-width="0.4">15</text>
<circle cx="681.3" cy="524.4" r="8.3" fill="#fff" stroke="#111" stroke-width="2.1" />
<circle cx="681.3" cy="557.7" r="8.3" fill="#fff" stroke="#111" stroke-width="2.1" />
<text x="672.26" y="510.30" font-size="12.4" font-weight="normal" fill="#111" stroke="#111" stroke-width="0.4">8</text>
<text x="674.20" y="580.80" font-size="12.4" font-weight="normal" fill="#111" stroke="#111" stroke-width="0.4">16</text>
<text x="23.97" y="539.90" font-size="17.2" font-weight="normal" fill="#1e1e1e" textLength="487.04" lengthAdjust="spacingAndGlyphs">You can also connect Pin 1−Pin 4 and Pin 9−Pin 12 to the 2 LOCs</text>
<text x="67.86" y="560.60" font-size="17.2" font-weight="normal" fill="#1e1e1e" textLength="447.66" lengthAdjust="spacingAndGlyphs">included, which can be connected to an external amplifier.</text>
<text x="709.31" y="550.20" font-size="17.2" font-weight="normal" fill="#1e1e1e" textLength="440.51" lengthAdjust="spacingAndGlyphs">Steering Wheel Audio C0ntr0l 3.5mm Jack (If applicable)</text>
<line x1="700.3" y1="560.6" x2="1138.3" y2="560.6" stroke="#111" stroke-width="1.3" />
<text x="198.67" y="655.40" font-size="16.2" font-weight="bold" fill="#393939" textLength="41.56" lengthAdjust="spacingAndGlyphs">Pin 1</text>
<text x="198.64" y="715.90" font-size="16.2" font-weight="bold" fill="#393939" textLength="42.47" lengthAdjust="spacingAndGlyphs">Pin 2</text>
<text x="198.66" y="774.30" font-size="16.2" font-weight="bold" fill="#393939" textLength="41.74" lengthAdjust="spacingAndGlyphs">Pin 3</text>
<text x="198.68" y="838.40" font-size="16.2" font-weight="bold" fill="#393939" textLength="41.11" lengthAdjust="spacingAndGlyphs">Pin 4</text>
<text x="198.67" y="899.80" font-size="16.2" font-weight="bold" fill="#393939" textLength="41.56" lengthAdjust="spacingAndGlyphs">Pin 5</text>
<text x="198.66" y="967.10" font-size="16.2" font-weight="bold" fill="#393939" textLength="41.74" lengthAdjust="spacingAndGlyphs">Pin 6</text>
<text x="198.66" y="1033.30" font-size="16.2" font-weight="bold" fill="#393939" textLength="41.83" lengthAdjust="spacingAndGlyphs">Pin 7</text>
<text x="198.67" y="1102.40" font-size="16.2" font-weight="bold" fill="#393939" textLength="41.56" lengthAdjust="spacingAndGlyphs">Pin 8</text>
<text x="976.62" y="653.60" font-size="16.2" font-weight="bold" fill="#393939" textLength="43.52" lengthAdjust="spacingAndGlyphs">Pin 9</text>
<text x="976.61" y="717.90" font-size="16.2" font-weight="bold" fill="#393939" textLength="54.05" lengthAdjust="spacingAndGlyphs">Pin 10</text>
<text x="976.59" y="774.00" font-size="16.2" font-weight="bold" fill="#393939" textLength="53.89" lengthAdjust="spacingAndGlyphs">Pin 11</text>
<text x="976.61" y="838.00" font-size="16.2" font-weight="bold" fill="#393939" textLength="54.05" lengthAdjust="spacingAndGlyphs">Pin 12</text>
<text x="976.61" y="906.30" font-size="16.2" font-weight="bold" fill="#393939" textLength="54.05" lengthAdjust="spacingAndGlyphs">Pin 13</text>
<text x="976.62" y="972.40" font-size="16.2" font-weight="bold" fill="#393939" textLength="53.39" lengthAdjust="spacingAndGlyphs">Pin 14</text>
<text x="976.61" y="1036.60" font-size="16.2" font-weight="bold" fill="#393939" textLength="53.86" lengthAdjust="spacingAndGlyphs">Pin 15</text>
<text x="976.61" y="1105.80" font-size="16.2" font-weight="bold" fill="#393939" textLength="54.05" lengthAdjust="spacingAndGlyphs">Pin 16</text>
<polyline points="465.5,653.8 307.8,653.8 307.8,713.3 476,713.3" fill="none" stroke="#c9606f" stroke-width="0.95" stroke-dasharray="2 1.5"/>
<polyline points="485.7,768.5 306.2,768.5 306.2,836.3 496.4,836.3" fill="none" stroke="#c9606f" stroke-width="0.95" stroke-dasharray="2 1.5"/>
<polyline points="310.3,902.7 508,902.7" fill="none" stroke="#c9606f" stroke-width="0.95" stroke-dasharray="2 1.5"/>
<polyline points="308,969.8 519,969.8" fill="none" stroke="#c9606f" stroke-width="0.95" stroke-dasharray="2 1.5"/>
<polyline points="308.6,1036.9 528.6,1036.9" fill="none" stroke="#c9606f" stroke-width="0.95" stroke-dasharray="2 1.5"/>
<polyline points="539.2,1104.4 313.6,1104.4 313.6,1163.4 581,1163.4" fill="none" stroke="#c9606f" stroke-width="0.95" stroke-dasharray="2 1.5"/>
<polyline points="752.6,656.6 911.8,656.6 911.8,716.2 743.4,716.2" fill="none" stroke="#c9606f" stroke-width="0.95" stroke-dasharray="2 1.5"/>
<polyline points="733.4,771.8 913.3,771.8 913.3,838.7 721.9,838.7" fill="none" stroke="#c9606f" stroke-width="0.95" stroke-dasharray="2 1.5"/>
<polyline points="710.3,905.6 908.7,905.6" fill="none" stroke="#c9606f" stroke-width="0.95" stroke-dasharray="2 1.5"/>
<polyline points="699.4,973.0 911.4,973.0" fill="none" stroke="#c9606f" stroke-width="0.95" stroke-dasharray="2 1.5"/>
<polyline points="687.4,1041.6 908.6,1041.6" fill="none" stroke="#c9606f" stroke-width="0.95" stroke-dasharray="2 1.5"/>
<polyline points="677.1,1107.6 878.8,1107.6 878.8,1162.5 629.7,1162.5" fill="none" stroke="#c9606f" stroke-width="0.95" stroke-dasharray="2 1.5"/>
<polyline points="518.6,618.1 518.6,655.0 471.5,655.0" fill="none" stroke="#e6e6e6" stroke-width="2.6" stroke-linejoin="miter"/>
<polyline points="530.4,619.8 530.4,714.6 482.5,714.6" fill="none" stroke="#000" stroke-width="2.6" stroke-linejoin="miter"/>
<polyline points="528.9,618.1 528.9,713.0 482.5,713.0" fill="none" stroke="#e6e6e6" stroke-width="1.8" stroke-linejoin="miter"/>
<polyline points="537.8,618.1 537.8,767.4 490.6,767.4" fill="none" stroke="#808080" stroke-width="2.6" stroke-linejoin="miter"/>
<polyline points="549.0,619.8 549.0,836.8 500.8,836.8" fill="none" stroke="#000" stroke-width="2.6" stroke-linejoin="miter"/>
<polyline points="547.6,618.1 547.6,835.2 500.8,835.2" fill="none" stroke="#808080" stroke-width="1.9" stroke-linejoin="miter"/>
<polyline points="559.2,619.8 559.2,903.9 510.6,903.9" fill="none" stroke="#2c4a6e" stroke-width="2.6" stroke-linejoin="miter"/>
<polyline points="557.4,618.1 557.4,901.9 510.6,901.9" fill="none" stroke="#f08a00" stroke-width="2.2" stroke-linejoin="miter"/>
<polyline points="566.9,618.1 566.9,968.4 519.5,968.4" fill="none" stroke="#f0a0c8" stroke-width="2.6" stroke-linejoin="miter"/>
<polyline points="575.9,618.1 575.9,1036.2 528.6,1036.2" fill="none" stroke="#e00000" stroke-width="2.6" stroke-linejoin="miter"/>
<polyline points="586.5,618.1 586.5,1103.6 539.2,1103.6" fill="none" stroke="#000" stroke-width="2.6" stroke-linejoin="miter"/>
<polyline points="621.5,618.1 621.5,1105.2 671.2,1105.2" fill="none" stroke="#ffd400" stroke-width="2.6" stroke-linejoin="miter"/>
<polyline points="631.9,618.1 631.9,1038.8 681.8,1038.8" fill="none" stroke="#e8890e" stroke-width="2.6" stroke-linejoin="miter"/>
<polyline points="642.9,619.8 642.9,973.8 691.6,973.8" fill="none" stroke="#000" stroke-width="2.6" stroke-linejoin="miter"/>
<polyline points="641.0,618.1 641.0,971.8 691.6,971.8" fill="none" stroke="#7a3c06" stroke-width="2.0" stroke-linejoin="miter"/>
<polyline points="651.3,618.1 651.3,903.8 701.1,903.8" fill="none" stroke="#1a6ae8" stroke-width="2.6" stroke-linejoin="miter"/>
<polyline points="662.2,619.8 662.2,838.8 710.3,838.8" fill="none" stroke="#000" stroke-width="2.6" stroke-linejoin="miter"/>
<polyline points="660.5,618.1 660.5,837.0 710.3,837.0" fill="none" stroke="#128a48" stroke-width="2.0" stroke-linejoin="miter"/>
<polyline points="670.5,618.1 670.5,770.0 719.6,770.0" fill="none" stroke="#1d9a55" stroke-width="2.6" stroke-linejoin="miter"/>
<polyline points="679.8,618.1 679.8,711.3 729.4,711.3" fill="none" stroke="#6010e8" stroke-width="2.6" stroke-linejoin="miter"/>
<polyline points="691.2,619.8 691.2,659.8 739.7,659.8" fill="none" stroke="#000" stroke-width="2.6" stroke-linejoin="miter"/>
<polyline points="689.6,618.1 689.6,657.6 739.7,657.6" fill="none" stroke="#6010e8" stroke-width="2.2" stroke-linejoin="miter"/>
<text x="343.44" y="624.40" font-size="16.2" font-weight="normal" fill="#1e1e1e" stroke="#1e1e1e" stroke-width="0.35" textLength="60.67" lengthAdjust="spacingAndGlyphs">[White]</text>
<text x="343.30" y="644.80" font-size="16.2" font-weight="normal" fill="#1e1e1e" stroke="#1e1e1e" stroke-width="0.35" textLength="109.09" lengthAdjust="spacingAndGlyphs">Front Left (+)</text>
<text x="344.76" y="681.00" font-size="16.2" font-weight="normal" fill="#1e1e1e" stroke="#1e1e1e" stroke-width="0.35" textLength="109.46" lengthAdjust="spacingAndGlyphs">[White black]</text>
<text x="342.74" y="701.50" font-size="16.2" font-weight="normal" fill="#1e1e1e" stroke="#1e1e1e" stroke-width="0.35" textLength="105.91" lengthAdjust="spacingAndGlyphs">Front Left (−)</text>
<text x="343.87" y="739.60" font-size="16.2" font-weight="normal" fill="#1e1e1e" stroke="#1e1e1e" stroke-width="0.35" textLength="51.71" lengthAdjust="spacingAndGlyphs">[Grey]</text>
<text x="341.42" y="760.00" font-size="16.2" font-weight="normal" fill="#1e1e1e" stroke="#1e1e1e" stroke-width="0.35" textLength="119.78" lengthAdjust="spacingAndGlyphs">Front Right (+)</text>
<text x="341.60" y="806.70" font-size="16.2" font-weight="normal" fill="#1e1e1e" stroke="#1e1e1e" stroke-width="0.35" textLength="99.31" lengthAdjust="spacingAndGlyphs">[Grey black]</text>
<text x="340.15" y="827.90" font-size="16.2" font-weight="normal" fill="#1e1e1e" stroke="#1e1e1e" stroke-width="0.35" textLength="117.73" lengthAdjust="spacingAndGlyphs">Front Right (−)</text>
<text x="341.61" y="869.90" font-size="16.2" font-weight="normal" fill="#1e1e1e" stroke="#1e1e1e" stroke-width="0.35" textLength="119.75" lengthAdjust="spacingAndGlyphs">[Orange black]</text>
<text x="340.78" y="892.80" font-size="16.2" font-weight="normal" fill="#1e1e1e" stroke="#1e1e1e" stroke-width="0.35" textLength="189.75" lengthAdjust="spacingAndGlyphs">Steering Wheel Key (+)</text>
<text x="341.27" y="935.80" font-size="16.2" font-weight="normal" fill="#1e1e1e" stroke="#1e1e1e" stroke-width="0.35" textLength="47.48" lengthAdjust="spacingAndGlyphs">[Pink]</text>
<text x="340.19" y="958.40" font-size="16.2" font-weight="normal" fill="#1e1e1e" stroke="#1e1e1e" stroke-width="0.35" textLength="133.18" lengthAdjust="spacingAndGlyphs">Rear Camera (+)</text>
<text x="341.28" y="1002.80" font-size="16.2" font-weight="normal" fill="#1e1e1e" stroke="#1e1e1e" stroke-width="0.35" textLength="41.75" lengthAdjust="spacingAndGlyphs">[Red]</text>
<text x="342.00" y="1025.80" font-size="16.2" font-weight="normal" fill="#1e1e1e" stroke="#1e1e1e" stroke-width="0.35" textLength="172.74" lengthAdjust="spacingAndGlyphs">Accessory/Ignition (+)</text>
<text x="342.29" y="1072.20" font-size="16.2" font-weight="normal" fill="#1e1e1e" stroke="#1e1e1e" stroke-width="0.35" textLength="56.14" lengthAdjust="spacingAndGlyphs">[Black]</text>
<text x="341.63" y="1092.50" font-size="16.2" font-weight="normal" fill="#1e1e1e" stroke="#1e1e1e" stroke-width="0.35" textLength="151.58" lengthAdjust="spacingAndGlyphs">Chassis Ground (−)</text>
<text x="701.59" y="627.60" font-size="16.2" font-weight="normal" fill="#1e1e1e" stroke="#1e1e1e" stroke-width="0.35" textLength="113.09" lengthAdjust="spacingAndGlyphs">[Purple black]</text>
<text x="701.52" y="647.50" font-size="16.2" font-weight="normal" fill="#1e1e1e" stroke="#1e1e1e" stroke-width="0.35" textLength="108.88" lengthAdjust="spacingAndGlyphs">Rear Right (−)</text>
<text x="700.58" y="681.50" font-size="16.2" font-weight="normal" fill="#1e1e1e" stroke="#1e1e1e" stroke-width="0.35" textLength="65.08" lengthAdjust="spacingAndGlyphs">[Purple]</text>
<text x="699.76" y="702.30" font-size="16.2" font-weight="normal" fill="#1e1e1e" stroke="#1e1e1e" stroke-width="0.35" textLength="113.17" lengthAdjust="spacingAndGlyphs">Rear Right (+)</text>
<text x="700.62" y="738.70" font-size="16.2" font-weight="normal" fill="#1e1e1e" stroke="#1e1e1e" stroke-width="0.35" textLength="60.96" lengthAdjust="spacingAndGlyphs">[Green]</text>
<text x="699.74" y="759.50" font-size="16.2" font-weight="normal" fill="#1e1e1e" stroke="#1e1e1e" stroke-width="0.35" textLength="103.09" lengthAdjust="spacingAndGlyphs">Rear Left (+)</text>
<text x="699.31" y="802.70" font-size="16.2" font-weight="normal" fill="#1e1e1e" stroke="#1e1e1e" stroke-width="0.35" textLength="109.53" lengthAdjust="spacingAndGlyphs">[Green black]</text>
<text x="698.07" y="823.00" font-size="16.2" font-weight="normal" fill="#1e1e1e" stroke="#1e1e1e" stroke-width="0.35" textLength="100.73" lengthAdjust="spacingAndGlyphs">Rear Left (−)</text>
<text x="699.08" y="865.70" font-size="16.2" font-weight="normal" fill="#1e1e1e" stroke="#1e1e1e" stroke-width="0.35" textLength="48.08" lengthAdjust="spacingAndGlyphs">[Blue]</text>
<text x="698.02" y="886.50" font-size="16.2" font-weight="normal" fill="#1e1e1e" stroke="#1e1e1e" stroke-width="0.35" textLength="153.31" lengthAdjust="spacingAndGlyphs">Power Antenna (+)</text>
<text x="700.37" y="941.20" font-size="16.2" font-weight="normal" fill="#1e1e1e" stroke="#1e1e1e" stroke-width="0.35" textLength="114.12" lengthAdjust="spacingAndGlyphs">[Brown black]</text>
<text x="700.57" y="961.80" font-size="16.2" font-weight="normal" fill="#1e1e1e" stroke="#1e1e1e" stroke-width="0.35" textLength="200.68" lengthAdjust="spacingAndGlyphs">Steering Wheel Key# (+)</text>
<text x="701.02" y="1009.50" font-size="16.2" font-weight="normal" fill="#1e1e1e" stroke="#1e1e1e" stroke-width="0.35" textLength="71.19" lengthAdjust="spacingAndGlyphs">[Orange]</text>
<text x="700.10" y="1030.20" font-size="16.2" font-weight="normal" fill="#1e1e1e" stroke="#1e1e1e" stroke-width="0.35" textLength="168.86" lengthAdjust="spacingAndGlyphs">Dimmer/Illumination (+)</text>
<text x="699.43" y="1073.50" font-size="16.2" font-weight="normal" fill="#1e1e1e" stroke="#1e1e1e" stroke-width="0.35" textLength="66.63" lengthAdjust="spacingAndGlyphs">[Yellow]</text>
<text x="699.26" y="1094.90" font-size="16.2" font-weight="normal" fill="#1e1e1e" stroke="#1e1e1e" stroke-width="0.35" textLength="226.54" lengthAdjust="spacingAndGlyphs">Constant/Battery Power (+)</text>
<g transform="translate(290,682)">
<path d="M-0.7,-17.6 L9.6,-8.8 L16.8,-8.8 L16.8,8.6 L9.6,8.6 L-0.7,18.0 Z" fill="none" stroke="#000" stroke-width="2.3" stroke-linejoin="round"/>
<path d="M-7.7,-15.0 A16.7 16.7 0 0 0 -7.7,15.3" fill="none" stroke="#000" stroke-width="2.3" stroke-linecap="round"/>
<path d="M-5.3,-8.0 A8.46 8.46 0 0 0 -5.3,8.5" fill="none" stroke="#000" stroke-width="2.3" stroke-linecap="round"/>
</g>
<g transform="translate(290,797.5)">
<path d="M-0.7,-17.6 L9.6,-8.8 L16.8,-8.8 L16.8,8.6 L9.6,8.6 L-0.7,18.0 Z" fill="none" stroke="#000" stroke-width="2.3" stroke-linejoin="round"/>
<path d="M-7.7,-15.0 A16.7 16.7 0 0 0 -7.7,15.3" fill="none" stroke="#000" stroke-width="2.3" stroke-linecap="round"/>
<path d="M-5.3,-8.0 A8.46 8.46 0 0 0 -5.3,8.5" fill="none" stroke="#000" stroke-width="2.3" stroke-linecap="round"/>
</g>
<g transform="translate(929.4,682) scale(-0.96,0.96)">
<path d="M-0.7,-17.6 L9.6,-8.8 L16.8,-8.8 L16.8,8.6 L9.6,8.6 L-0.7,18.0 Z" fill="none" stroke="#000" stroke-width="2.3" stroke-linejoin="round"/>
<path d="M-7.7,-15.0 A16.7 16.7 0 0 0 -7.7,15.3" fill="none" stroke="#000" stroke-width="2.3" stroke-linecap="round"/>
<path d="M-5.3,-8.0 A8.46 8.46 0 0 0 -5.3,8.5" fill="none" stroke="#000" stroke-width="2.3" stroke-linecap="round"/>
</g>
<g transform="translate(930.6,797.6) scale(-0.96,0.96)">
<path d="M-0.7,-17.6 L9.6,-8.8 L16.8,-8.8 L16.8,8.6 L9.6,8.6 L-0.7,18.0 Z" fill="none" stroke="#000" stroke-width="2.3" stroke-linejoin="round"/>
<path d="M-7.7,-15.0 A16.7 16.7 0 0 0 -7.7,15.3" fill="none" stroke="#000" stroke-width="2.3" stroke-linecap="round"/>
<path d="M-5.3,-8.0 A8.46 8.46 0 0 0 -5.3,8.5" fill="none" stroke="#000" stroke-width="2.3" stroke-linecap="round"/>
</g>
<g transform="translate(292.3,886.2)">
<circle cx="0" cy="0" r="15.9" fill="none" stroke="#000" stroke-width="2.1" />
<path d="M-15.5,-3.9 Q0,-4.6 15.5,-3.9 L15.5,1.9 Q8,1.9 4.6,4.2 L3.0,15.5 L-3.0,15.5 L-4.6,4.2 Q-8,1.9 -15.5,1.9 Z" fill="#000" stroke="none" stroke-width="0" />
<circle cx="0" cy="0.1" r="5.5" fill="none" stroke="#fff" stroke-width="0.9" />
<circle cx="0" cy="0.1" r="4.9" fill="#000" stroke="none" stroke-width="0" />
<circle cx="0" cy="0.1" r="1.9" fill="#fff" stroke="none" stroke-width="0" />
</g>
<g transform="translate(931.0,954.8)">
<circle cx="0" cy="0" r="15.9" fill="none" stroke="#000" stroke-width="2.1" />
<path d="M-15.5,-3.9 Q0,-4.6 15.5,-3.9 L15.5,1.9 Q8,1.9 4.6,4.2 L3.0,15.5 L-3.0,15.5 L-4.6,4.2 Q-8,1.9 -15.5,1.9 Z" fill="#000" stroke="none" stroke-width="0" />
<circle cx="0" cy="0.1" r="5.5" fill="none" stroke="#fff" stroke-width="0.9" />
<circle cx="0" cy="0.1" r="4.9" fill="#000" stroke="none" stroke-width="0" />
<circle cx="0" cy="0.1" r="1.9" fill="#fff" stroke="none" stroke-width="0" />
</g>
<rect x="276.8" y="940.7" width="30.4" height="28.2" rx="5.6" fill="none" stroke="#000" stroke-width="1.9" />
<circle cx="292.2" cy="955.3" r="9.6" fill="none" stroke="#000" stroke-width="1.7" />
<circle cx="292.4" cy="955.0" r="6.5" fill="#000" stroke="none" stroke-width="0" />
<circle cx="288.9" cy="952.3" r="3.0" fill="#fff" stroke="none" stroke-width="0" />
<circle cx="292.05" cy="1018.4" r="17.9" fill="none" stroke="#000" stroke-width="1.75" />
<g transform="translate(291.9,1018.5)">
<path d="M-1.3,-2.0 L-1.3,-4.8 L-4.3,-4.8 L-4.3,-8.0 L-1.3,-8.0 L-1.3,-10.2 Q-1.3,-11.6 0.25,-11.6 Q1.8,-11.6 1.8,-10.2 L1.8,-2.0 A7.7 7.7 0 1 1 -1.3,-2.0 Z" fill="none" stroke="#000" stroke-width="1.8" stroke-linejoin="round"/>
<circle cx="0.1" cy="5.7" r="3.0" fill="none" stroke="#000" stroke-width="1.9" />
</g>
<circle cx="933" cy="866.4" r="2.9" fill="#000" stroke="none" stroke-width="0" />
<line x1="933" y1="866.4" x2="933" y2="878" stroke="#000" stroke-width="1.2" />
<polyline points="924.8,907.6 933.1,877.4 941.5,907.6" fill="none" stroke="#000" stroke-width="1.8" stroke-linejoin="miter"/>
<polyline points="930.6,887 935.6,888.8 929.6,892.5 937.3,895 928,899.5 939,901.5 926.4,904.2 940.3,905" fill="none" stroke="#000" stroke-width="1.0" />
<path d="M922.5,857.5 A10.4,10.1 0 0 0 922.5,877.7 A8.0,10.1 0 0 1 922.5,857.5 Z" fill="#000" stroke="#000" stroke-width="0.5" />
<path d="M925.4,860.0 A5.6,7.4 0 0 0 925.4,874.8 A3.6,7.4 0 0 1 925.4,860.0 Z" fill="#000" stroke="#000" stroke-width="0.5" />
<path d="M943.5,857.5 A10.1,10.1 0 0 1 943.5,877.7 A7.7,10.1 0 0 0 943.5,857.5 Z" fill="#000" stroke="#000" stroke-width="0.5" />
<path d="M940.6,860.0 A5.1,7.4 0 0 1 940.6,874.8 A3.2,7.4 0 0 0 940.6,860.0 Z" fill="#000" stroke="#000" stroke-width="0.5" />
<path d="M936.2,1012.3 Q948.7,1015.5 948.7,1027.2 Q948.7,1039 936.2,1042 Q933.6,1042.6 933.2,1039 Q932.4,1027.2 933.2,1015.5 Q933.6,1012 936.2,1012.3 Z" fill="none" stroke="#000" stroke-width="1.9" />
<line x1="917.2" y1="1015.9" x2="928.3" y2="1015.9" stroke="#000" stroke-width="1.9" stroke-linecap="round"/>
<line x1="917.2" y1="1024.3" x2="925.2" y2="1024.3" stroke="#000" stroke-width="1.9" stroke-linecap="round"/>
<line x1="917.2" y1="1032.4" x2="925.2" y2="1032.4" stroke="#000" stroke-width="1.9" stroke-linecap="round"/>
<line x1="917.2" y1="1040.8" x2="928.3" y2="1040.8" stroke="#000" stroke-width="1.9" stroke-linecap="round"/>
<rect x="591.2" y="1148.3" width="6.0" height="4.6" rx="1.2" fill="none" stroke="#000" stroke-width="1.6" />
<rect x="610.0" y="1148.3" width="6.0" height="4.6" rx="1.2" fill="none" stroke="#000" stroke-width="1.6" />
<rect x="588.0" y="1152.5" width="31.4" height="29.6" rx="2.2" fill="#fff" stroke="#000" stroke-width="1.8" />
<line x1="588.5" y1="1159.8" x2="619" y2="1159.8" stroke="#000" stroke-width="1.6" />
<line x1="591.2" y1="1171.2" x2="600" y2="1171.2" stroke="#000" stroke-width="1.8" />
<line x1="606.2" y1="1171.2" x2="616.4" y2="1171.2" stroke="#000" stroke-width="1.8" />
<line x1="611.3" y1="1166.2" x2="611.3" y2="1176" stroke="#000" stroke-width="1.8" />
</svg>
</body></html>
